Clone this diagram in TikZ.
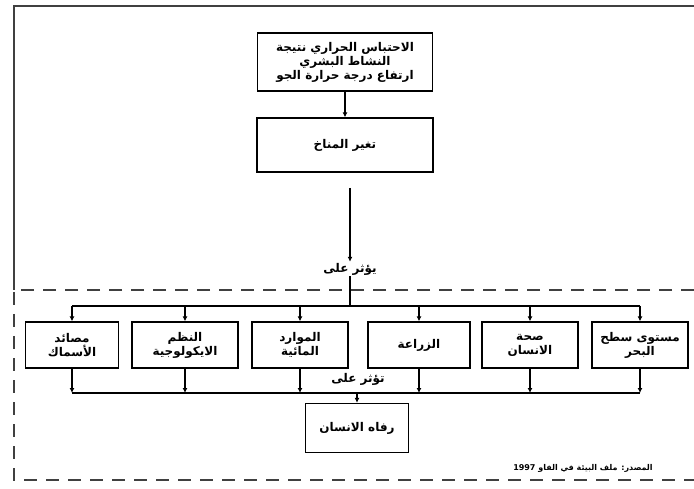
\documentclass[tikz,border=0pt]{standalone}
\usepackage{fontspec}
\newfontfamily\arabicfont[Script=Arabic]{DejaVu Sans}
\TeXXeTstate=1
\usetikzlibrary{positioning,arrows.meta}
\newcommand{\ar}[1]{\beginR #1\endR}
\tikzset{
  box/.style={draw,line width=1.3pt,minimum width=96pt,minimum height=46pt,align=center,font=\arabicfont\large\bfseries,inner sep=2pt},
  lbl/.style={font=\arabicfont\large\bfseries,inner sep=1pt},
  arr/.style={-{Latex[length=5pt,width=5pt]},line width=1.1pt},
  bus/.style={line width=1.3pt},
  frame/.style={line width=1.3pt,draw=black!75}
}
\begin{document}
\begin{tikzpicture}[x=1pt,y=-1pt]
\useasboundingbox (0,0) rectangle (694,489);
% frames
\draw[frame] (14,290) -- (14,6) -- (694,6);
\draw[frame,dash pattern=on 13pt off 9pt] (694,290) -- (14,290) -- (14,480) -- (694,480);
% top part
\node[box,minimum width=175pt,minimum height=58pt] (warming) at (345,62) {\ar{الاحتباس الحراري نتيجة}\\ \ar{النشاط البشري}\\ \ar{ارتفاع درجة حرارة الجو}};
\node[box,minimum width=176pt,minimum height=54pt] (climate) at (345,145) {\ar{تغير المناخ}};
\draw[arr] (warming) -- (climate);
\coordinate (gap) at (350,188);
\node[lbl] (affects) at (350,269) {\ar{يؤثر على}};
\draw[arr] (gap) -- (affects.north);
% sectors
\node[box,minimum width=93pt] (fish) at (72,345) {\ar{مصائد}\\ \ar{الأسماك}};
\node[box,minimum width=106pt] (eco) at (185,345) {\ar{النظم}\\ \ar{الايكولوجية}};
\node[box] (water) at (300,345) {\ar{الموارد}\\ \ar{المائية}};
\node[box,minimum width=102pt] (agri) at (419,345) {\ar{الزراعة}};
\node[box] (health) at (530,345) {\ar{صحة}\\ \ar{الانسان}};
\node[box,minimum width=96pt] (sea) at (640,345) {\ar{مستوى سطح}\\ \ar{البحر}};
\coordinate (topbus) at (350,306);
\draw[bus] (affects.south) -- (topbus);
\draw[bus] (fish |- topbus) -- (sea |- topbus);
\foreach \s in {fish,eco,water,agri,health,sea}
  \draw[arr] (\s |- topbus) -- (\s.north);
% well-being
\coordinate (lowbus) at (357,393);
\node[lbl] (affect2) at (358,379) {\ar{تؤثر على}};
\draw[bus] (fish |- lowbus) -- (sea |- lowbus);
\foreach \s in {fish,eco,water,agri,health,sea}
  \draw[arr] (\s.south) -- (\s |- lowbus);
\node[box,minimum width=103pt,minimum height=49pt] (welfare) at (357,428) {\ar{رفاه الانسان}};
\draw[arr] (lowbus) -- (welfare.north);
% source
\node[lbl,font=\arabicfont\footnotesize\bfseries] (source) at (583,468) {\ar{المصدر: ملف البيئة في الفاو \beginL 1997\endL{}}};
\end{tikzpicture}
\end{document}
